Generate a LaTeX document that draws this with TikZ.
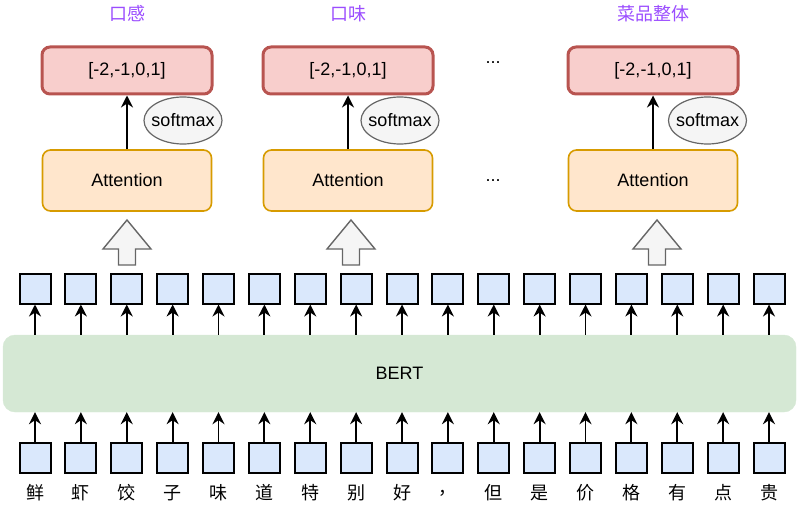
\documentclass[tikz,border=0pt]{standalone}
\usepackage{fontspec}
\setmainfont{Liberation Sans}
\newfontfamily\cjk{Noto Sans CJK SC}
\usetikzlibrary{arrows.meta,shapes.geometric,calc}
\definecolor{redfill}{HTML}{F8CECC}
\definecolor{redline}{HTML}{B85450}
\definecolor{orfill}{HTML}{FFE6CC}
\definecolor{orline}{HTML}{D79B00}
\definecolor{greyfill}{HTML}{F5F5F5}
\definecolor{greyline}{HTML}{666666}
\definecolor{bluefill}{HTML}{DAE8FC}
\definecolor{greenfill}{HTML}{D5E8D4}
\definecolor{titlecol}{HTML}{9B4DFF}
\tikzset{
  txt/.style={font=\fontsize{18}{20}\selectfont, text=black},
  outbox/.style={txt, draw=redline, fill=redfill, line width=3pt, rounded corners=8pt, minimum width=170pt, minimum height=47pt, inner sep=0pt},
  attbox/.style={txt, draw=orline, fill=orfill, line width=1.6pt, rounded corners=8pt, minimum width=169pt, minimum height=61pt, inner sep=0pt},
  smax/.style={txt, ellipse, draw=greyline, fill=greyfill, line width=1.2pt, minimum width=78pt, minimum height=47pt, inner xsep=-4pt, inner ysep=0pt},
  tok/.style={draw=black, fill=bluefill, line width=2pt, minimum width=31pt, minimum height=30pt, inner sep=0pt},
  bertbox/.style={txt, fill=greenfill, draw=greenfill, rounded corners=12pt, minimum width=793pt, minimum height=77pt, inner sep=0pt},
  arr/.style={line width=1.8pt, -{Stealth[length=12pt,width=12pt,inset=4pt]}},
  blk/.style={draw=greyline, fill=greyfill, line width=1.4pt, line join=miter},
  ttl/.style={font=\cjk\fontsize{18}{20}\selectfont, text=titlecol},
  chr/.style={font=\cjk\fontsize{18}{20}\selectfont, text=black}
}
\begin{document}
\begin{tikzpicture}[x=1pt,y=-1pt]
\useasboundingbox (0,0) rectangle (800,505);
% top modules
\foreach \i/\cx/\sx/\t in {1/127/183/口感, 2/348/400/口味, 3/653/707.5/菜品整体}{
  \node[ttl] (title\i) at (\cx,14) {\t};
  \node[outbox] (out\i) at (\cx,70.5) {[-2,-1,0,1]};
  \node[attbox] (att\i) at (\cx,180.5) {Attention};
  \node[smax] (sm\i) at (\sx,120.5) {softmax};
  \draw[arr] (att\i.north) -- (out\i.south);
}
\node[txt] (dotsA) at (493,63) {...};
\node[txt] (dotsB) at (493,181) {...};
% block arrows
\foreach \i/\cx in {1/127, 2/351, 3/657}{
  \coordinate (ba\i) at (\cx,265);
  \draw[blk] ($(ba\i)+(-8.5,0)$) -- ++(0,-16) -- ++(-15.5,0) -- ($(ba\i)+(0,-45)$) -- ($(ba\i)+(24,-16)$) -- ++(-15.5,0) -- ($(ba\i)+(8.5,0)$) -- cycle;
}
% BERT
\node[bertbox] (bert) at (399.5,373.5) {BERT};
% tokens
\foreach \c [count=\k from 0] in {鲜,虾,饺,子,味,道,特,别,好,，,但,是,价,格,有,点,贵}{
  \pgfmathsetmacro{\xx}{35+\k*45.875}
  \node[tok] (t\k) at (\xx,288.5) {};
  \node[tok] (b\k) at (\xx,457.5) {};
  \node[chr] (c\k) at (\xx,493) {\c};
  \draw[arr] (t\k |- bert.north) -- (t\k.south);
  \draw[arr] (b\k.north) -- (b\k |- bert.south);
}
\end{tikzpicture}
\end{document}
